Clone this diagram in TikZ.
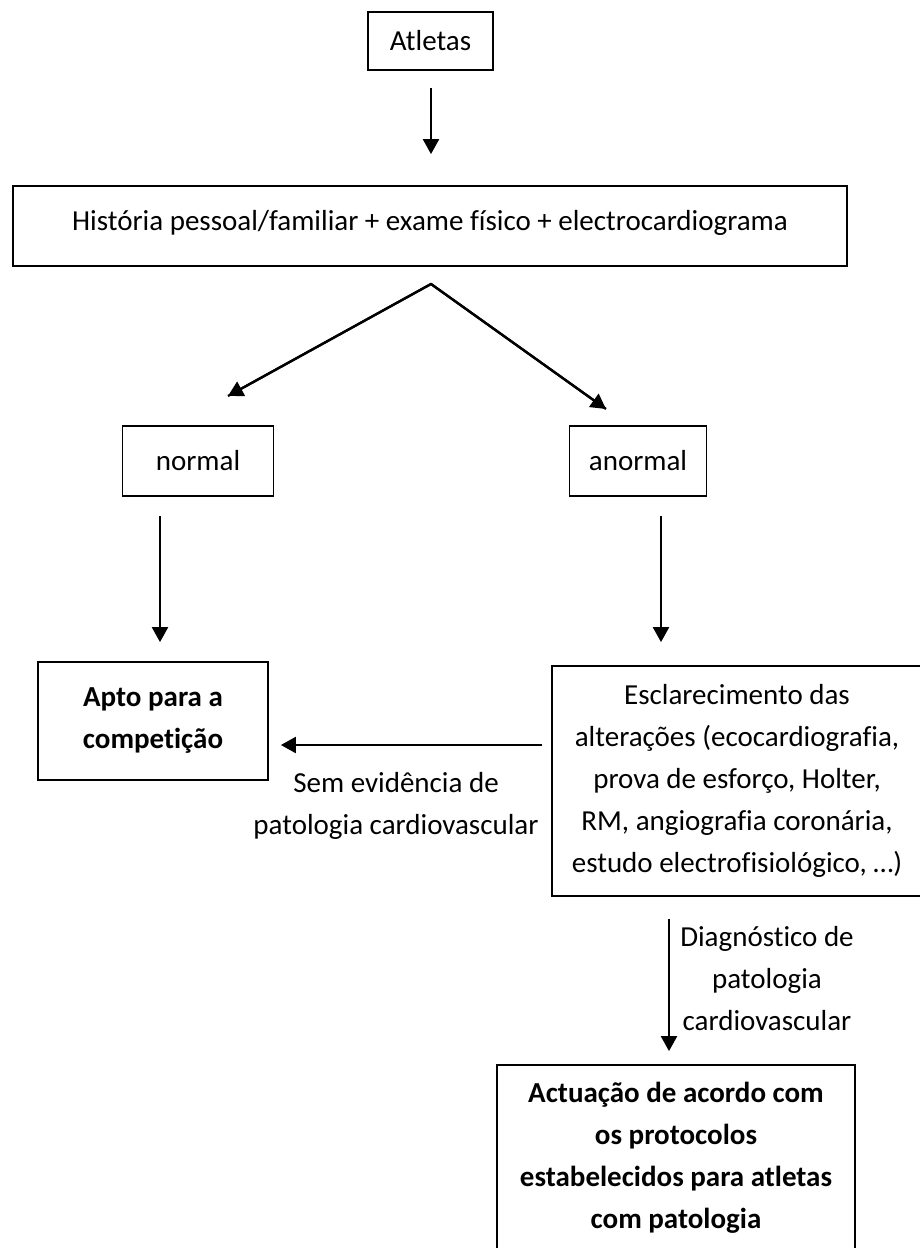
\documentclass[tikz,border=0pt]{standalone}
\usepackage{fontspec}
\setmainfont{Carlito}[Ligatures={TeX,NoCommon}]
\usetikzlibrary{arrows.meta}
\begin{document}
\begin{tikzpicture}[x=1pt,y=-1pt,
  box/.style={draw, line width=1.8pt, inner sep=0pt, align=center, font=\fontsize{29}{42}\selectfont},
  bbox/.style={box, font=\fontsize{29}{42}\selectfont\bfseries},
  lbl/.style={inner sep=0pt, align=center, font=\fontsize{29}{42}\selectfont},
  arr/.style={line width=2.3pt, -{Triangle[length=15pt,width=16pt]}}]
\useasboundingbox (0,0) rectangle (920,1248);
\fill[white] (0,0) rectangle (920,1248);

\node[box, minimum width=125pt, minimum height=58pt] (atl) at (430.5,41) {Atletas};
\node[box, minimum width=834pt, minimum height=80pt] (big) at (430,226)
  {\raisebox{11pt}{História pessoal/familiar + exame físico + electrocardiograma}};
\node[box, minimum width=151pt, minimum height=70pt] (nor) at (198,461) {normal};
\node[box, minimum width=137pt, minimum height=70pt] (anor) at (638,461) {anormal};
\node[bbox, minimum width=230pt, minimum height=118pt] (apto) at (153,721) {Apto para a\\competição};
\node[box, minimum width=370pt, minimum height=230pt] (escl) at (737,781)
  {Esclarecimento das\\alterações (ecocardiografia,\\prova de esforço, Holter,\\RM, angiografia coronária,\\estudo electrofisiológico, …)};
\node[bbox, minimum width=358pt, minimum height=185pt] (act) at (676,1157.5)
  {Actuação de acordo com\\os protocolos\\estabelecidos para atletas\\com patologia};

\node[lbl] (sem) at (396,806) {Sem evidência de\\patologia cardiovascular};
\node[lbl] (diag) at (767,979) {Diagnóstico de\\patologia\\cardiovascular};

\coordinate (apex) at (431,284);
\coordinate (tl) at (228,396);
\coordinate (tr) at (606,409);

\draw[arr] ([xshift=0.5pt,yshift=-17pt]atl.south) -- ([xshift=1pt,yshift=31pt]big.north);
\draw[line width=2.3pt, line join=miter] (tl) -- (apex) -- (tr);
\draw[arr] (apex) -- (tl);
\draw[arr] (apex) -- (tr);
\draw[arr] ([xshift=-38pt,yshift=-19pt]nor.south) -- ([xshift=7pt,yshift=19pt]apto.north);
\draw[arr] ([xshift=23pt,yshift=-19pt]anor.south) -- ([xshift=-76pt,yshift=23pt]escl.north);
\draw[arr] ([xshift=-9pt,yshift=36pt]escl.west) -- ([xshift=12pt,yshift=-24pt]apto.east);
\draw[arr] ([xshift=-68pt,yshift=-22pt]escl.south) -- ([xshift=-7pt,yshift=13pt]act.north);
\end{tikzpicture}
\end{document}
